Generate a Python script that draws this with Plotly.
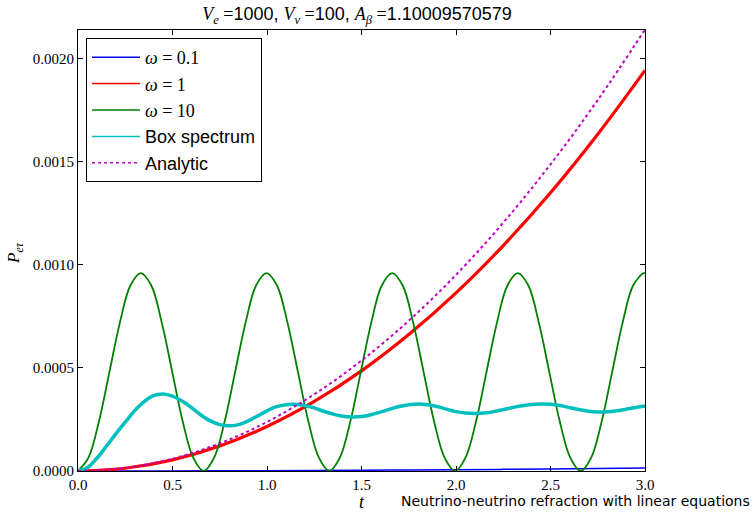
import numpy as np
import plotly.graph_objects as go

# ---- data ----
t_q = [0.0, 0.25, 0.5, 0.75, 1.0, 1.25, 1.5, 1.75, 2.0, 2.25, 2.5, 2.75, 3.0]
p_w01 = [0.0, 0.0000001, 0.0000004, 0.0000009, 0.0000016, 0.0000024, 0.0000035,
         0.0000048, 0.0000062, 0.0000079, 0.0000097, 0.0000118, 0.000014]
p_w1 = [0.0, 0.0000135, 0.000054, 0.0001215, 0.000216, 0.0003375, 0.000486,
        0.000662, 0.000864, 0.001094, 0.00135, 0.001634, 0.001944]
p_analytic = [0.0, 0.0000149, 0.0000595, 0.000134, 0.000238, 0.000372, 0.000536,
              0.000729, 0.000952, 0.001205, 0.001488, 0.0018, 0.002142]

t_green = list(np.round(np.linspace(0, 2.9925, 55), 4)) + [3.0]
p_w10 = [0.0, 0.000065, 0.00024, 0.00048, 0.00072, 0.0009, 0.00096, 0.0009, 0.00072, 0.00048, 0.00024, 0.000065,
         0.0, 0.000065, 0.00024, 0.00048, 0.00072, 0.0009, 0.00096, 0.0009, 0.00072, 0.00048, 0.00024, 0.000065,
         0.0, 0.000065, 0.00024, 0.00048, 0.00072, 0.0009, 0.00096, 0.0009, 0.00072, 0.00048, 0.00024, 0.000065,
         0.0, 0.000065, 0.00024, 0.00048, 0.00072, 0.0009, 0.00096, 0.0009, 0.00072, 0.00048, 0.00024, 0.000065,
         0.0, 0.000065, 0.00024, 0.00048, 0.00072, 0.0009, 0.00096, 0.000959]

t_box = [0.0, 0.05, 0.1, 0.15, 0.2, 0.25, 0.3, 0.35, 0.4, 0.45, 0.5, 0.55, 0.6, 0.65, 0.7,
         0.75, 0.8, 0.85, 0.9, 0.95, 1.0, 1.05, 1.1, 1.15, 1.2, 1.25, 1.3, 1.35, 1.4, 1.45,
         1.5, 1.55, 1.6, 1.65, 1.7, 1.75, 1.8, 1.85, 1.9, 1.95, 2.0, 2.05, 2.1, 2.15, 2.2,
         2.25, 2.3, 2.35, 2.4, 2.45, 2.5, 2.55, 2.6, 2.65, 2.7, 2.75, 2.8, 2.85, 2.9, 2.95, 3.0]
p_box = [0.0, 0.000016, 0.000062, 0.00012, 0.00018, 0.000237, 0.000293, 0.000337, 0.000366,
         0.000374, 0.000363, 0.00034, 0.000308, 0.000272, 0.000243, 0.000225, 0.000219,
         0.000225, 0.000243, 0.000267, 0.000292, 0.000312, 0.000322, 0.000324, 0.000318,
         0.000306, 0.00029, 0.000276, 0.000266, 0.000262, 0.000264, 0.000273, 0.000286,
         0.0003, 0.000313, 0.000322, 0.000325, 0.000322, 0.000313, 0.0003, 0.000288,
         0.000281, 0.000279, 0.000281, 0.000288, 0.000298, 0.000308, 0.000317, 0.000323,
         0.000325, 0.000324, 0.000318, 0.000308, 0.000298, 0.00029, 0.000286, 0.000287,
         0.000292, 0.0003, 0.000308, 0.000316]

x_ticks = [0.0, 0.5, 1.0, 1.5, 2.0, 2.5, 3.0]
y_ticks = [0.0, 0.0005, 0.0010, 0.0015, 0.0020]

SERIF = "font-family:Liberation Serif"


def m(s):
    return f'<span style="{SERIF}">{s}</span>'


series = [
    (t_q, p_w01, "#0000ff", 1.5, "solid", m("<i>ω</i> = 0.1")),
    (t_q, p_w1, "#ff0000", 3.2, "solid", m("<i>ω</i> = 1")),
    (t_green, p_w10, "#008000", 1.8, "solid", m("<i>ω</i> = 10")),
    (t_box, p_box, "#00bfbf", 3.5, "solid", "Box spectrum"),
    (t_q, p_analytic, "#bf00bf", 2, "dot", "Analytic"),
]

fig = go.Figure()
for xs, ys, col, w, dash, name in series:
    fig.add_trace(go.Scatter(x=xs, y=ys, mode="lines", showlegend=False, hoverinfo="skip",
                             line=dict(color=col, width=w, dash=dash, shape="spline")))
# legend entries (thin sample lines, as in the reference legend)
for xs, ys, col, w, dash, name in series:
    fig.add_trace(go.Scatter(x=[None], y=[None], mode="lines", name=name,
                             line=dict(color=col, width=1.5, dash=dash)))

title = (m("<i>V</i><sub><i>e</i></sub> =") + "1000, " + m("<i>V</i><sub><i>ν</i></sub> =") + "100, "
         + m("<i>A</i><sub><i>β</i></sub> =") + "1.10009570579")

fig.update_layout(
    width=755, height=516,
    margin=dict(l=78, r=110, t=30, b=45),
    paper_bgcolor="white", plot_bgcolor="white",
    font=dict(family="Liberation Sans", size=18, color="black"),
    title=dict(text=title, x=357 / 755, xanchor="center", y=1 - 14 / 516, yanchor="middle",
               font=dict(size=18)),
    showlegend=True,
    legend=dict(x=(86 - 78) / 567, y=1 - (38 - 30) / 441, xanchor="left", yanchor="top",
                bordercolor="black", borderwidth=1, bgcolor="white", font=dict(size=18),
                itemwidth=48),
    xaxis=dict(range=[0, 3.0], tickvals=x_ticks, ticktext=[f"{v:.1f}" for v in x_ticks],
               ticks="inside", ticklen=5, tickcolor="black", showline=True, linecolor="black",
               linewidth=1, mirror="ticks", showgrid=False, zeroline=False,
               tickfont=dict(family="Liberation Serif", size=15)),
    yaxis=dict(range=[0, 0.00214], tickvals=y_ticks, ticktext=[f"{v:.4f}" for v in y_ticks],
               ticks="inside", ticklen=5, tickcolor="black", showline=True, linecolor="black",
               linewidth=1, mirror="ticks", showgrid=False, zeroline=False,
               tickfont=dict(family="Liberation Serif", size=15)),
    annotations=[
        dict(text="<i>t</i>", xref="paper", yref="paper", x=0.5, y=(471 - 502) / 441,
             xanchor="center", yanchor="middle", showarrow=False,
             font=dict(family="Liberation Serif", size=18)),
        dict(text="<i>P</i><sub><i>eτ</i></sub>", xref="paper", yref="paper", x=(15 - 78) / 567,
             y=(471 - 253) / 441, xanchor="center", yanchor="middle", showarrow=False, textangle=-90,
             font=dict(family="Liberation Serif", size=17)),
        dict(text="Neutrino-neutrino refraction with linear equations", xref="paper", yref="paper",
             x=(752 - 78) / 567, y=(471 - 501) / 441, xanchor="right", yanchor="middle", showarrow=False,
             font=dict(family="DejaVu Sans", size=14)),
    ],
)

fig.write_html("out.html", config={"displayModeBar": False},
               post_script="document.body.style.margin='0';")
